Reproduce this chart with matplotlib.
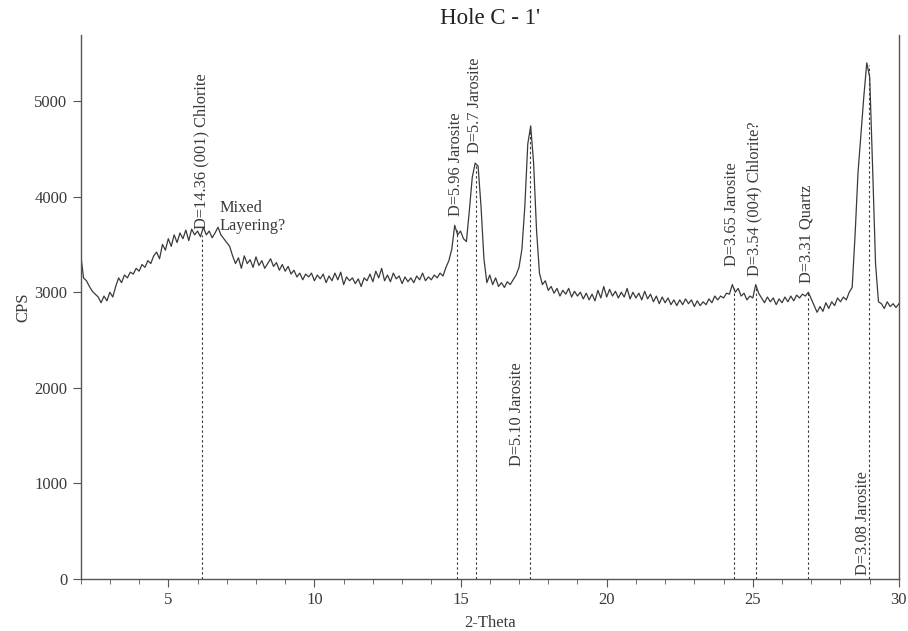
import matplotlib
matplotlib.use("Agg")
import matplotlib.pyplot as plt
import numpy as np
from matplotlib.ticker import MultipleLocator

# 2-theta steps of the scan (0.1 deg) and counts
two_theta = np.round(np.arange(2.0, 30.05, 0.1), 1)
cps = [
    3400, 3150, 3120, 3060, 3010, 2980, 2950, 2890, 2960, 2910,   # 2.0 - 2.9
    3000, 2950, 3060, 3150, 3100, 3180, 3150, 3210, 3190, 3250,   # 3.0 - 3.9
    3220, 3290, 3260, 3330, 3300, 3380, 3420, 3350, 3500, 3440,   # 4.0 - 4.9
    3560, 3480, 3600, 3520, 3620, 3560, 3650, 3540, 3660, 3600,   # 5.0 - 5.9
    3640, 3580, 3680, 3600, 3640, 3570, 3620, 3680, 3600, 3560,   # 6.0 - 6.9
    3520, 3480, 3380, 3300, 3360, 3250, 3380, 3300, 3340, 3260,   # 7.0 - 7.9
    3370, 3280, 3330, 3250, 3300, 3350, 3270, 3310, 3230, 3290,   # 8.0 - 8.9
    3220, 3270, 3190, 3230, 3160, 3200, 3130, 3190, 3160, 3200,   # 9.0 - 9.9
    3120, 3180, 3140, 3190, 3100, 3170, 3120, 3200, 3130, 3210,   # 10.0 - 10.9
    3080, 3160, 3120, 3150, 3090, 3140, 3060, 3150, 3120, 3190,   # 11.0 - 11.9
    3110, 3220, 3150, 3250, 3120, 3180, 3110, 3200, 3140, 3170,   # 12.0 - 12.9
    3090, 3160, 3110, 3150, 3100, 3170, 3130, 3200, 3120, 3160,   # 13.0 - 13.9
    3130, 3180, 3150, 3200, 3170, 3260, 3330, 3450, 3700, 3600,   # 14.0 - 14.9
    3640, 3560, 3530, 3850, 4200, 4350, 4320, 3900, 3350, 3100,   # 15.0 - 15.9
    3180, 3080, 3150, 3060, 3100, 3050, 3110, 3080, 3130, 3180,   # 16.0 - 16.9
    3260, 3450, 3900, 4550, 4740, 4350, 3650, 3200, 3080, 3120,   # 17.0 - 17.9
    3020, 3060, 2990, 3040, 2960, 3020, 2980, 3040, 2950, 3010,   # 18.0 - 18.9
    2960, 3000, 2930, 2990, 2920, 2980, 2910, 3020, 2940, 3060,   # 19.0 - 19.9
    2950, 3030, 2960, 3010, 2940, 3000, 2950, 3040, 2930, 3000,   # 20.0 - 20.9
    2940, 2990, 2920, 3010, 2930, 2980, 2900, 2960, 2880, 2950,   # 21.0 - 21.9
    2890, 2940, 2870, 2920, 2860, 2920, 2870, 2930, 2880, 2920,   # 22.0 - 22.9
    2850, 2910, 2860, 2900, 2870, 2930, 2890, 2960, 2920, 2960,   # 23.0 - 23.9
    2940, 2990, 2980, 3080, 3000, 3040, 2960, 2990, 2920, 2960,   # 24.0 - 24.9
    2940, 3080, 2990, 2940, 2890, 2950, 2900, 2940, 2870, 2930,   # 25.0 - 25.9
    2890, 2950, 2900, 2960, 2910, 2970, 2940, 2980, 2960, 3000,   # 26.0 - 26.9
    2930, 2860, 2790, 2850, 2800, 2890, 2830, 2900, 2860, 2940,   # 27.0 - 27.9
    2900, 2950, 2920, 3000, 3050, 3600, 4250, 4650, 5050, 5400,   # 28.0 - 28.9
    5250, 4300, 3300, 2900, 2880, 2830, 2900, 2850, 2880, 2840,   # 29.0 - 29.9
    2880,                                                          # 30.0
]

# peak markers: position, top of dashed line, label, label x, label bottom
peak_pos = [6.15, 14.87, 15.53, 17.37, 24.35, 25.12, 26.9, 28.97]
peak_top = [3600, 3650, 4330, 4700, 3060, 3060, 2990, 5380]
peak_text = ["D=14.36 (001) Chlorite", "D=5.96 Jarosite", "D=5.7 Jarosite",
             "D=5.10 Jarosite", "D=3.65 Jarosite", "D=3.54 (004) Chlorite?",
             "D=3.31 Quartz", "D=3.08 Jarosite"]
text_x = [6.14, 14.84, 15.5, 16.94, 24.3, 25.04, 26.84, 28.78]
text_y = [3660, 3800, 4460, 1180, 3270, 3170, 3100, 40]

ink = "#3a3a3a"
plt.rcParams["font.family"] = ["Liberation Serif", "DejaVu Serif"]

fig = plt.figure(figsize=(9.08, 6.31), dpi=100)
ax = fig.add_axes([0.0888, 0.0824, 0.9012, 0.862])

ax.plot(two_theta, cps, color=ink, linewidth=0.9)

for pos, top in zip(peak_pos, peak_top):
    ax.plot([pos, pos], [0, top], color=ink, linewidth=0.8, linestyle=(0, (2.2, 2.2)))

for tx, ty, label in zip(text_x, text_y, peak_text):
    ax.text(tx, ty, label, rotation=90, ha="center", va="bottom",
            fontsize=11.8, color=ink)

ax.text(6.74, 3960, "Mixed\nLayering?", ha="left", va="top", fontsize=11.8,
        color=ink, linespacing=1.15)

ax.set_xlim(2, 30)
ax.set_ylim(0, 5690)
ax.set_xticks([5, 10, 15, 20, 25, 30])
ax.xaxis.set_minor_locator(MultipleLocator(1))
ax.set_yticks([0, 1000, 2000, 3000, 4000, 5000])

ax.spines["top"].set_visible(False)
for side in ["left", "right", "bottom"]:
    ax.spines[side].set_color("#555555")
    ax.spines[side].set_linewidth(1.0)

ax.tick_params(axis="both", which="major", direction="out", length=6,
               color="#555555", labelsize=12, labelcolor=ink)
ax.tick_params(axis="x", which="minor", direction="out", length=3.5, color="#555555")
ax.tick_params(axis="y", which="both", right=False)

ax.set_xlabel("2-Theta", fontsize=12, color=ink, labelpad=5)
ax.set_ylabel("CPS", fontsize=12, color=ink, labelpad=2)
ax.set_title("Hole C - 1'", fontsize=16.5, color="#222222", pad=8)

fig.savefig("out.png", dpi=100)
